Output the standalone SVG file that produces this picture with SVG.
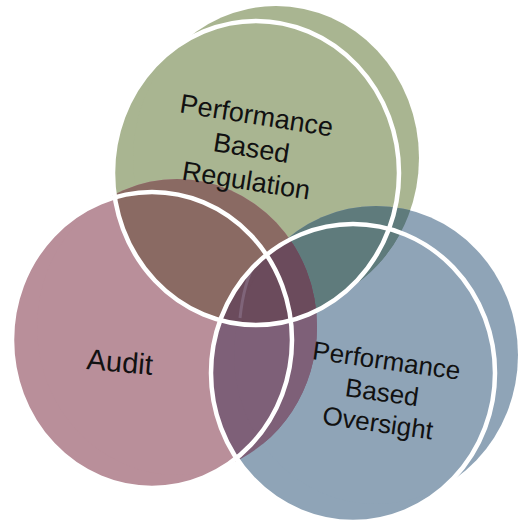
<svg xmlns="http://www.w3.org/2000/svg" xmlns:xlink="http://www.w3.org/1999/xlink" width="519" height="527" viewBox="0 0 519 527">
<defs>
<style>
.t{font-family:"Liberation Sans",Arial,sans-serif;fill:#111;text-anchor:middle}
.rim{fill:none;stroke:#fff;stroke-width:4.5}
</style>
<ellipse id="gF" cx="256" cy="173" rx="143" ry="152"/>
<ellipse id="gB" cx="276" cy="158" rx="143" ry="152"/>
<ellipse id="pF" cx="152" cy="340" rx="140" ry="148"/>
<ellipse id="pB" cx="177" cy="327" rx="140" ry="148"/>
<ellipse id="bF" cx="353" cy="373" rx="142" ry="149"/>
<ellipse id="bB" cx="376" cy="355" rx="142" ry="149"/>
<clipPath id="cG"><use href="#gF"/><use href="#gB"/></clipPath>
<clipPath id="cP"><use href="#pF"/><use href="#pB"/></clipPath>
</defs>
<g id="node-regulation" fill="#a9b591"><use href="#gF"/><use href="#gB"/></g>
<g id="node-audit" fill="#b98f9a"><use href="#pF"/><use href="#pB"/></g>
<g id="node-oversight" fill="#8fa4b7"><use href="#bF"/><use href="#bB"/></g>
<g id="overlaps">
<g clip-path="url(#cG)" fill="#8a6a63"><use href="#pF"/><use href="#pB"/></g>
<g clip-path="url(#cG)" fill="#5f7b7c"><use href="#bF"/><use href="#bB"/></g>
<g clip-path="url(#cP)" fill="#7e6078"><use href="#bF"/><use href="#bB"/></g>
<g clip-path="url(#cG)"><g clip-path="url(#cP)" fill="#6b4b5c"><use href="#bF"/><use href="#bB"/></g></g>
<path d="M255,263 Q244,282 240,318" fill="none" stroke="#7f6479" stroke-width="3"/>
</g>
<g id="rims">
<use href="#gF" class="rim"/>
<use href="#pF" class="rim"/>
<use href="#bF" class="rim"/>
</g>
<g id="label-regulation" class="t" font-size="27" transform="rotate(9 250 157)">
<text x="250" y="124">Performance</text>
<text x="250" y="157">Based</text>
<text x="250" y="190">Regulation</text>
</g>
<g id="label-audit" class="t" font-size="29" transform="rotate(5 119 372)">
<text x="119" y="372">Audit</text>
</g>
<g id="label-oversight" class="t" font-size="26" transform="rotate(8 380 400)">
<text x="381" y="369">Performance</text>
<text x="381" y="401">Based</text>
<text x="381" y="432">Oversight</text>
</g>
</svg>
